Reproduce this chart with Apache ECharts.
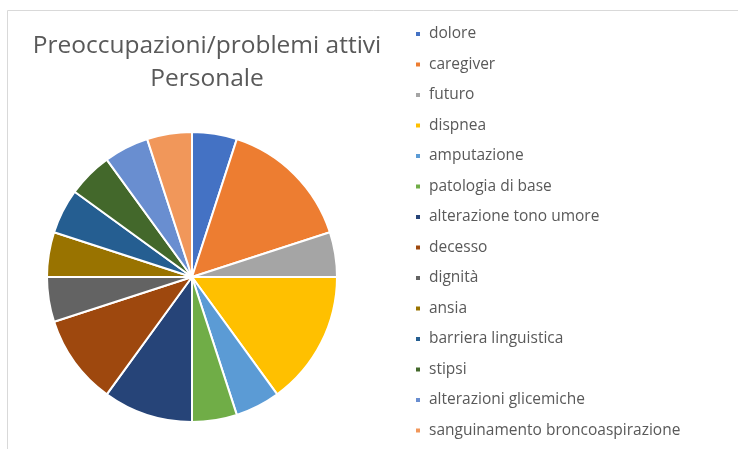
<!DOCTYPE html>
<html>
<head>
<meta charset="utf-8">
<script src="https://cdn.jsdelivr.net/npm/echarts@6/dist/echarts.min.js"></script>
<style>
  html, body { margin: 0; padding: 0; background: #fff; }
  #chart { width: 738px; height: 449px; }
</style>
</head>
<body>
<div id="chart"></div>
<script>
// Worries / active problems reported by staff
const categories = [
  'dolore', 'caregiver', 'futuro', 'dispnea', 'amputazione', 'patologia di base',
  'alterazione tono umore', 'decesso', 'dignità', 'ansia', 'barriera linguistica',
  'stipsi', 'alterazioni glicemiche', 'sanguinamento broncoaspirazione'
];
const counts = [1, 3, 1, 3, 1, 1, 2, 2, 1, 1, 1, 1, 1, 1];
const colors = [
  '#4472C4', '#ED7D31', '#A5A5A5', '#FFC000', '#5B9BD5', '#70AD47',
  '#264478', '#9E480E', '#636363', '#997300', '#255E91', '#43682B',
  '#698ED0', '#F1975A'
];

const chart = echarts.init(document.getElementById('chart'), null, { renderer: 'canvas' });

chart.setOption({
  animation: false,
  color: colors,
  graphic: [{
    type: 'rect',
    shape: { x: 7.5, y: 10.5, width: 800, height: 500 },
    style: { fill: 'none', stroke: '#d9d9d9', lineWidth: 1 },
    silent: true
  }],
  title: {
    text: 'Preoccupazioni/problemi attivi\nPersonale',
    left: 202,
    top: 25,
    textAlign: 'center',
    textStyle: {
      fontFamily: 'Open Sans',
      fontSize: 24.5,
      fontWeight: 'normal',
      color: '#595959',
      lineHeight: 33
    }
  },
  legend: {
    orient: 'vertical',
    left: 409,
    top: 21,
    icon: 'rect',
    itemWidth: 6,
    itemHeight: 6,
    itemGap: 14.5,
    data: categories,
    textStyle: {
      fontFamily: 'Open Sans',
      fontSize: 15.5,
      lineHeight: 16,
      color: '#595959',
      padding: [0, 0, 0, 3]
    }
  },
  series: [{
    type: 'pie',
    center: [192, 277],
    radius: 145,
    startAngle: 90,
    clockwise: true,
    label: { show: false },
    labelLine: { show: false },
    itemStyle: { borderColor: '#fff', borderWidth: 2 },
    data: categories.map((name, i) => ({ name, value: counts[i] }))
  }]
});
</script>
</body>
</html>
